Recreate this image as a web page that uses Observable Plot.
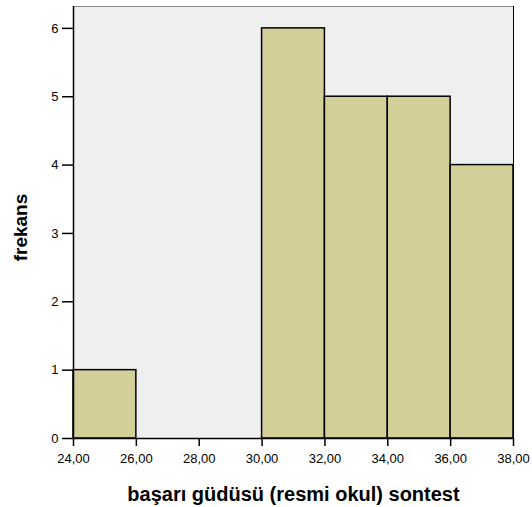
<!DOCTYPE html>
<html><head><meta charset="utf-8">
<script src="https://cdn.jsdelivr.net/npm/d3@7"></script>
<script src="https://cdn.jsdelivr.net/npm/@observablehq/plot@0.6"></script>
<style>body{margin:0;background:#fff;font-family:"Liberation Sans",Arial,sans-serif}</style>
</head><body><div id="chart"></div>
<script>
const binStart = [24, 26, 28, 30, 32, 34, 36];
const binEnd = [26, 28, 30, 32, 34, 36, 38];
const frekans = [1, 0, 0, 6, 5, 5, 4];
const xTicks = [24, 26, 28, 30, 32, 34, 36, 38];
const yTicks = [0, 1, 2, 3, 4, 5, 6];
const data = binStart.map((s, i) => ({x1: s, x2: binEnd[i], y: frekans[i]}));
const fmt = d => d.toFixed(2).replace(".", ",");
const yfmt = d => String(d);
const chart = Plot.plot({
  width: 532, height: 507,
  marginLeft: 73, marginRight: 19, marginTop: 6, marginBottom: 69,
  style: {fontFamily: "'Liberation Sans', Arial, sans-serif", fontSize: "13px", color: "#000"},
  x: {domain: [24, 38], label: null},
  y: {domain: [0, 6.32], label: null},
  marks: [
    Plot.frame({fill: "#efefef", stroke: null}),
    Plot.ruleY([6.32], {stroke: "#888", strokeWidth: 1}),
    Plot.ruleX([38], {stroke: "#000", strokeWidth: 1}),
    Plot.rectY(data, {x1: "x1", x2: "x2", y: "y", fill: "#d3cf98", stroke: "#000", strokeWidth: 1.5}),
    Plot.ruleX([24], {stroke: "#000", strokeWidth: 1.5}),
    Plot.ruleY([0], {stroke: "#000", strokeWidth: 1.5}),
    Plot.axisX({ticks: xTicks, tickFormat: fmt, tickSize: 8, tickPadding: 7, fontSize: 13, stroke: "#000", strokeWidth: 1.5, label: null}),
    Plot.axisY({ticks: yTicks, tickFormat: yfmt, tickSize: 11, tickPadding: 4, fontSize: 13, stroke: "#000", strokeWidth: 1.5, label: null}),
    Plot.text(["başarı güdüsü (resmi okul) sontest"], {frameAnchor: "bottom", dy: 62, fontSize: 20, fontWeight: "bold", fill: "#000"}),
    Plot.text(["frekans"], {frameAnchor: "left", dx: -53, dy: 5, rotate: -90, textAnchor: "middle", fontSize: 19, fontWeight: "bold", fill: "#000"})
  ]
});
document.getElementById("chart").append(chart);
</script></body></html>
